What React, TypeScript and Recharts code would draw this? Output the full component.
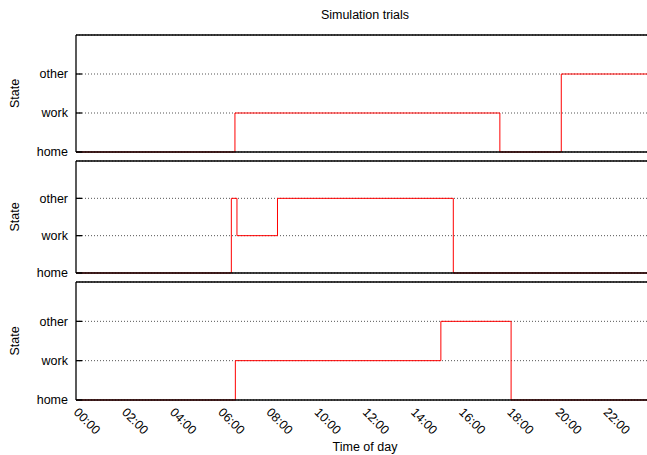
import React from 'react';
import {
  LineChart,
  Line,
  XAxis,
  YAxis,
  CartesianGrid,
  ReferenceLine,
} from 'recharts';

// State levels and axis labels
const stateLabels = ['home', 'work', 'other'];
const stateTicks = [0, 1, 2];
const hourTicks = [0, 120, 240, 360, 480, 600, 720, 840, 960, 1080, 1200, 1320];
const hourLabels = ['00:00', '02:00', '04:00', '06:00', '08:00', '10:00', '12:00', '14:00', '16:00', '18:00', '20:00', '22:00'];

// Each trial: minute of day when the state changes, and the new state
const trial1Times = [0, 396, 1056, 1209, 1440];
const trial1States = [0, 1, 0, 2, 2];
const trial2Times = [0, 387, 401, 502, 940, 1440];
const trial2States = [0, 2, 1, 2, 0, 0];
const trial3Times = [0, 397, 909, 1084, 1440];
const trial3States = [0, 1, 2, 0, 0];

const toRows = (times: number[], states: number[]) =>
  times.map((t, i) => ({ t, state: states[i] }));

const FONT = '"Liberation Sans", Arial, Helvetica, sans-serif';
const FONT_SIZE = 12.5;
const CHART_WIDTH = 660;

const TimeTick = ({ x, y, payload }: any) => {
  const tx = x - 3;
  const ty = y + 13;
  return (
    <text
      x={tx}
      y={ty}
      transform={`rotate(45 ${tx} ${ty})`}
      fontSize={FONT_SIZE}
      fill="#000"
      textAnchor="start"
    >
      {hourLabels[hourTicks.indexOf(payload.value)]}
    </text>
  );
};

interface TrialPanelProps {
  data: { t: number; state: number }[];
  top: number;
  height: number;
  marginTop: number;
  marginBottom: number;
  showTime?: boolean;
  title?: string;
}

const TrialPanel: React.FC<TrialPanelProps> = ({
  data,
  top,
  height,
  marginTop,
  marginBottom,
  showTime = false,
  title,
}) => (
  <div style={{ position: 'absolute', left: 0, top }}>
    <LineChart
      width={CHART_WIDTH}
      height={height}
      data={data}
      margin={{ top: marginTop, right: 6, bottom: marginBottom, left: 0 }}
    >
      <CartesianGrid vertical={false} stroke="#555" strokeDasharray="1 2" />
      <XAxis
        dataKey="t"
        type="number"
        domain={[0, 1440]}
        ticks={hourTicks}
        allowDataOverflow
        stroke="#000"
        strokeWidth={1.3}
        tickLine={false}
        tickSize={0}
        tickMargin={0}
        tick={showTime ? <TimeTick /> : false}
        height={showTime ? 55 : 1}
        label={
          showTime
            ? {
                value: 'Time of day',
                position: 'insideBottom',
                offset: 4,
                style: { fill: '#000', fontSize: FONT_SIZE },
              }
            : undefined
        }
      />
      <YAxis
        type="number"
        domain={[0, 3]}
        ticks={stateTicks}
        width={76}
        stroke="#000"
        strokeWidth={1.3}
        tickSize={-6}
        tickMargin={14}
        tickFormatter={(v: number) => stateLabels[v]}
        tick={{ fill: '#000', fontSize: FONT_SIZE }}
        label={{
          value: 'State',
          angle: -90,
          position: 'insideLeft',
          offset: 15,
          style: { textAnchor: 'middle', fill: '#000', fontSize: FONT_SIZE },
        }}
      />
      <ReferenceLine
        y={3}
        stroke="#000"
        strokeWidth={1.3}
        strokeDasharray="0"
        label={
          title
            ? {
                value: title,
                position: 'top',
                offset: 16,
                style: { fill: '#000', fontSize: FONT_SIZE },
              }
            : undefined
        }
      />
      <Line
        type="stepAfter"
        dataKey="state"
        stroke="#ff0000"
        strokeWidth={1}
        dot={false}
        isAnimationActive={false}
      />
    </LineChart>
  </div>
);

export default function App() {
  return (
    <div
      style={{
        position: 'absolute',
        left: 0,
        top: 0,
        width: 647,
        height: 455,
        overflow: 'hidden',
        background: '#fff',
        fontFamily: FONT,
      }}
    >
      <TrialPanel
        data={toRows(trial1Times, trial1States)}
        top={0}
        height={160}
        marginTop={35}
        marginBottom={7}
        title="Simulation trials"
      />
      <TrialPanel
        data={toRows(trial2Times, trial2States)}
        top={160}
        height={121}
        marginTop={1}
        marginBottom={7}
      />
      <TrialPanel
        data={toRows(trial3Times, trial3States)}
        top={281}
        height={174}
        marginTop={1}
        marginBottom={0}
        showTime
      />
    </div>
  );
}
